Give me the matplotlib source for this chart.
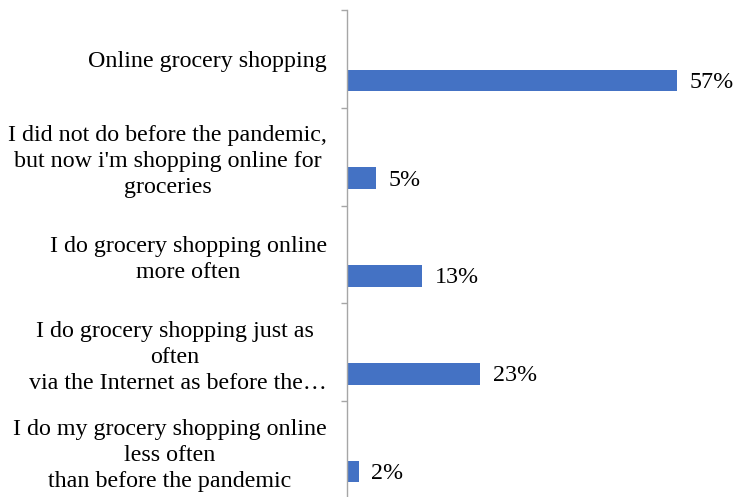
import matplotlib.pyplot as plt
import numpy as np

CATEGORIES = [
    'Online grocery shopping',
    "I did not do before the pandemic,\nbut now i'm shopping online for\ngroceries",
    'I do grocery shopping online\nmore often',
    'I do grocery shopping just as\noften\n via the Internet as before the\u2026',
    'I do my grocery shopping online\nless often\nthan before the pandemic',
]
SHARES = [57, 5, 13, 23, 2]

BAR_COLOUR = '#4472C4'
AXIS_COLOUR = '#a6a6a6'
FONT_SIZE = 17.3


def main() -> None:
    plt.rcParams['font.family'] = ['Liberation Serif', 'DejaVu Serif']
    fig = plt.figure(figsize=(7.35, 4.97), dpi=100)
    ax = fig.add_axes([347 / 735, -0.004, 376 / 735, 0.984])

    positions = np.arange(len(CATEGORIES))
    ax.barh(positions + 0.22, SHARES, height=0.22, color=BAR_COLOUR)
    for pos, share in zip(positions, SHARES):
        ax.text(share + 2.2, pos + 0.24, f'{share}%', va='center', ha='left',
                fontsize=FONT_SIZE)

    ax.set_xlim(0, 65)
    ax.set_ylim(len(CATEGORIES) - 0.5, -0.5)

    ax.set_yticks(positions)
    ax.set_yticklabels(CATEGORIES, fontsize=FONT_SIZE, multialignment='center',
                       linespacing=1.32)
    ax.tick_params(axis='y', which='major', length=0, pad=14.5)
    ax.set_yticks(np.arange(-0.5, len(CATEGORIES), 1.0), minor=True)
    ax.tick_params(axis='y', which='minor', length=4.5, color=AXIS_COLOUR, width=1)

    ax.set_xticks([])
    for side in ['top', 'right', 'bottom']:
        ax.spines[side].set_visible(False)
    ax.spines['left'].set_color(AXIS_COLOUR)
    ax.spines['left'].set_linewidth(1)

    fig.savefig('out.png', dpi=100)


if __name__ == '__main__':
    main()
